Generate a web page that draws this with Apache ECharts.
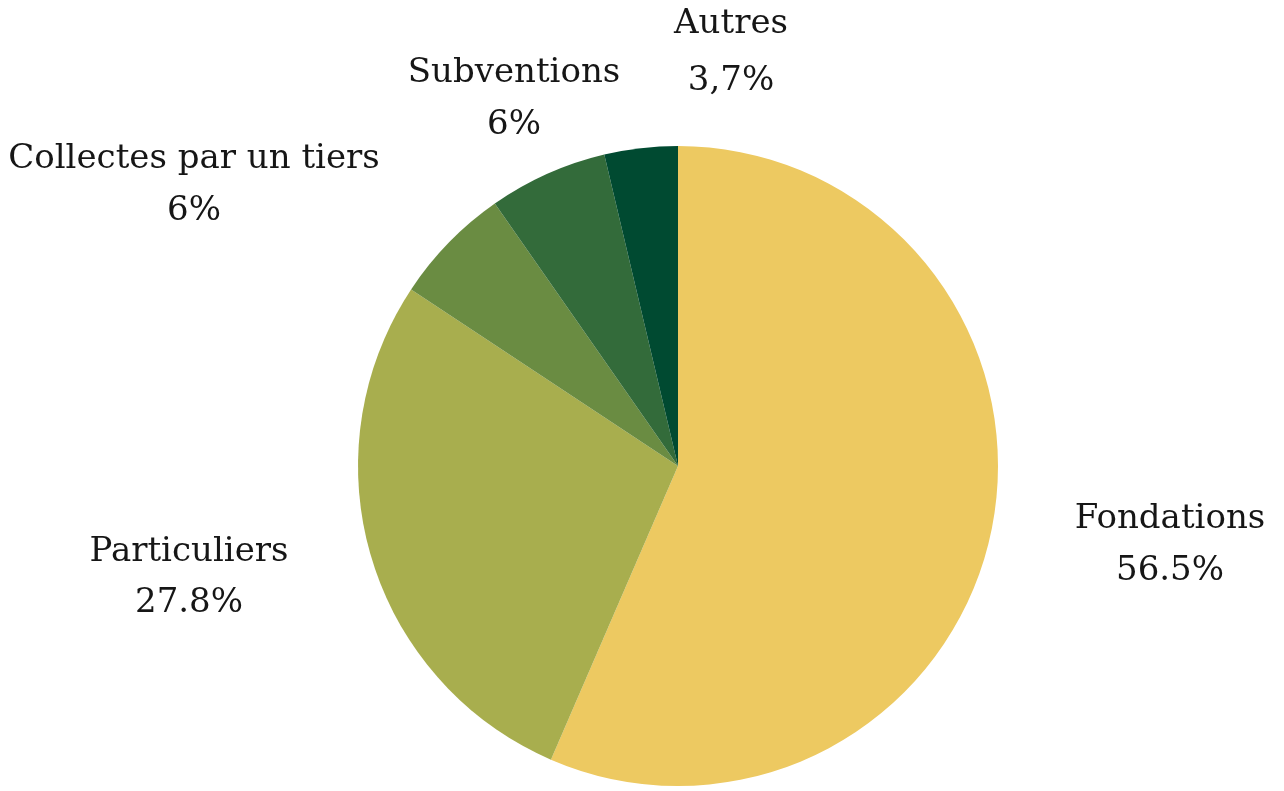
<!DOCTYPE html>
<html>
<head>
<meta charset="utf-8">
<script src="https://cdn.jsdelivr.net/npm/echarts@6/dist/echarts.min.js"></script>
<style>
html,body{margin:0;padding:0;background:#fff;}
#chart{width:1284px;height:791px;}
</style>
</head>
<body>
<div id="chart"></div>
<script>
const categories = ['Fondations', 'Particuliers', 'Collectes par un tiers', 'Subventions', 'Autres'];
const values = [56.5, 27.8, 6, 6, 3.7];
const valueLabels = ['56.5%', '27.8%', '6%', '6%', '3,7%'];
const colors = ['#EDC961', '#A8AE4E', '#6A8C42', '#336B3A', '#004A31'];

// label block centres and line spacing (layout only)
const labelAnchors = [[1170, 545], [189, 578], [194, 185], [514, 99], [731, 53]];
const labelLineHeights = [52, 51, 52, 52, 57];

const chart = echarts.init(document.getElementById('chart'), null, {renderer: 'canvas'});
chart.setOption({
  animation: false,
  backgroundColor: '#ffffff',
  series: [{
    type: 'pie',
    center: [678, 466],
    radius: [0, 320],
    startAngle: 90,
    clockwise: true,
    data: categories.map((c, i) => ({
      name: c,
      value: values[i],
      itemStyle: {color: colors[i]},
      label: {lineHeight: labelLineHeights[i]}
    })),
    itemStyle: {borderWidth: 0},
    label: {
      show: true,
      position: 'inside',
      overflow: 'none',
      formatter: p => p.name + '\n' + valueLabels[p.dataIndex],
      fontFamily: 'DejaVu Serif',
      fontSize: 34,
      color: '#161616',
      align: 'center'
    },
    labelLine: {show: false},
    labelLayout: p => ({
      x: labelAnchors[p.dataIndex][0],
      y: labelAnchors[p.dataIndex][1],
      align: 'center',
      verticalAlign: 'middle'
    }),
    emphasis: {disabled: true}
  }]
});
</script>
</body>
</html>
